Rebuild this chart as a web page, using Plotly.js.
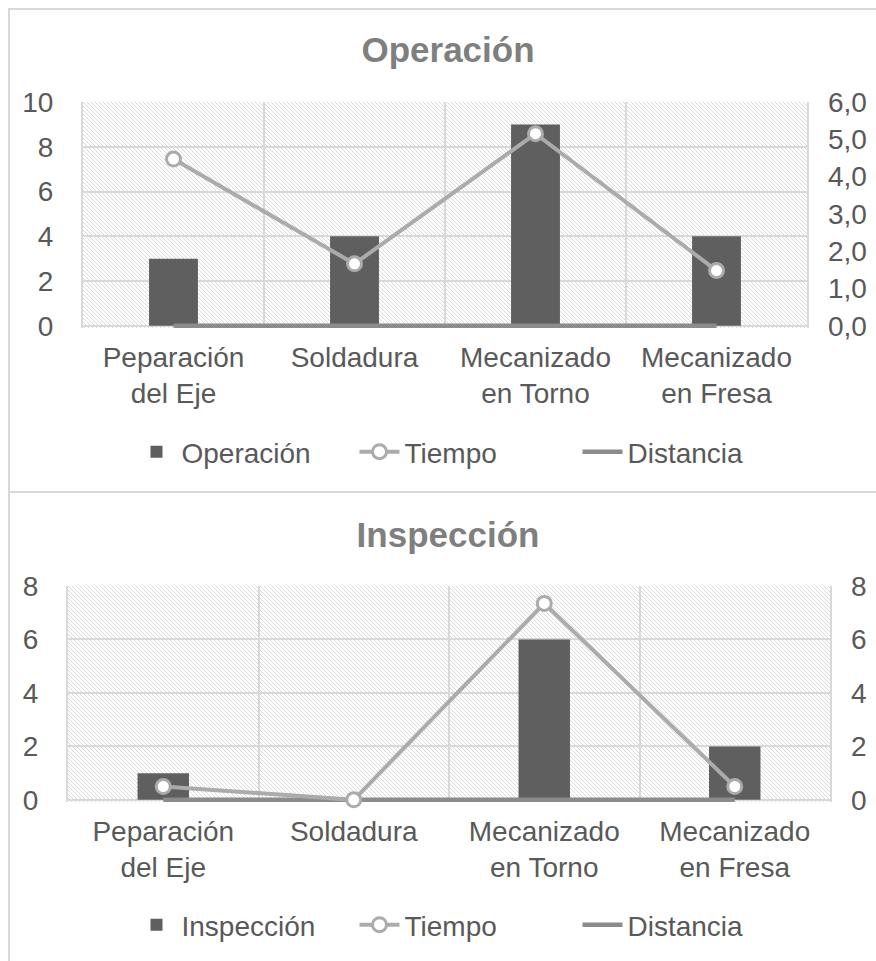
<!DOCTYPE html>
<html>
<head>
<meta charset="utf-8">
<script src="https://cdn.plot.ly/plotly-3.0.1.min.js"></script>
<style>
  html, body { margin:0; padding:0; background:#fff; }
  body { width:876px; height:961px; overflow:hidden; position:relative; }
  #b1 { position:absolute; left:8px; top:8px; width:900px; height:481px; border:2px solid #d9d9d9; box-sizing:content-box; }
  #b2 { position:absolute; left:8px; top:491px; width:900px; height:500px; border-left:2px solid #d9d9d9; }
  #g1 { position:absolute; left:0; top:0; width:876px; height:491px; }
  #g2 { position:absolute; left:0; top:491px; width:876px; height:470px; }
</style>
</head>
<body>
<div id="b1"></div>
<div id="b2"></div>
<div id="g1"></div>
<div id="g2"></div>
<script>
// ---- data ----
const categories = ['Peparación<br>del Eje', 'Soldadura', 'Mecanizado<br>en Torno', 'Mecanizado<br>en Fresa'];

const operacionValues = [3, 4, 9, 4];
const operacionTiempo = [4.47, 1.66, 5.15, 1.48];
const operacionDistancia = [0, 0, 0, 0];

const inspeccionValues = [1, 0, 6, 2];
const inspeccionTiempo = [0.5, 0, 7.35, 0.5];
const inspeccionDistancia = [0, 0, 0, 0];

// ---- styles ----
const FONT = '"Liberation Sans", Arial, sans-serif';
const TXT = '#595959';
const GRID = '#d9d9d9';
const BAR = '#5f5f5f';
const TLINE = '#ababab';
const DLINE = '#8c8c8c';

function hatch(w, h) {
  const svg = "<svg xmlns='http://www.w3.org/2000/svg' width='" + w + "' height='" + h + "' viewBox='0 0 " + w + " " + h + "' preserveAspectRatio='none'>" +
    "<defs><pattern id='p' width='4' height='4' patternUnits='userSpaceOnUse'>" +
    "<path d='M-1,-1 L5,5 M3,-1 L5,1 M-1,3 L1,5' stroke='#d6d6d6' stroke-width='0.9'/></pattern></defs>" +
    "<rect width='" + w + "' height='" + h + "' fill='#ffffff'/>" +
    "<rect width='" + w + "' height='" + h + "' fill='url(#p)'/></svg>";
  return 'data:image/svg+xml;charset=utf-8,' + encodeURIComponent(svg);
}

function makeChart(div, cfg) {
  const traces = [
    { type:'bar', x:categories, y:cfg.bars, name:cfg.name, marker:{color:BAR}, width:0.27,
      xaxis:'x', yaxis:'y', hoverinfo:'skip', legendrank:1 },
    { type:'scatter', mode:'lines', x:categories, y:cfg.dist, name:'Distancia',
      line:{color:DLINE, width:4.5}, xaxis:'x', yaxis:'y', cliponaxis:false, hoverinfo:'skip', legendrank:3 },
    { type:'scatter', mode:'lines+markers', x:categories, y:cfg.tiempo, name:'Tiempo',
      line:{color:TLINE, width:4},
      marker:{symbol:'circle', size:14, color:'#ffffff', line:{color:TLINE, width:3}},
      xaxis:'x', yaxis:'y2', cliponaxis:false, hoverinfo:'skip', legendrank:2 }
  ];
  const W = 876, H = cfg.height;
  const plotW = W - cfg.l - cfg.r, plotH = H - cfg.t - cfg.b;
  const layout = {
    width:W, height:H,
    margin:{l:cfg.l, r:cfg.r, t:cfg.t, b:cfg.b, pad:0},
    paper_bgcolor:'rgba(0,0,0,0)', plot_bgcolor:'rgba(0,0,0,0)',
    separators:',.',
    font:{family:FONT, color:TXT, size:28},
    title:{text:'<b>' + cfg.name + '</b>', font:{family:FONT, size:35, color:'#7f7f7f'},
      xref:'container', yref:'container', x:448 / W, xanchor:'center', y:1 - cfg.titleY / H, yanchor:'middle'},
    showlegend:true,
    legend:{orientation:'h', xref:'container', yref:'container', x:cfg.legX / W, xanchor:'center',
      y:1 - cfg.legY / H, yanchor:'middle', font:{family:FONT, size:28, color:TXT},
      traceorder:'normal', itemwidth:40, entrywidth:168, entrywidthmode:'pixels', bgcolor:'rgba(0,0,0,0)'},
    barmode:'group',
    xaxis:{type:'category', tickson:'boundaries', showgrid:true, gridcolor:GRID, gridwidth:2,
      showline:false, ticks:'', ticklen:0, ticklabelstandoff:10,
      tickfont:{size:28, color:TXT}, fixedrange:true, zeroline:false, layer:'below traces'},
    yaxis:{range:cfg.yRange, dtick:cfg.yDtick, showgrid:true, gridcolor:GRID, gridwidth:2,
      showline:true, mirror:true, linecolor:GRID, linewidth:2,
      zeroline:true, zerolinecolor:GRID, zerolinewidth:2, ticks:'', ticklen:0,
      ticklabelstandoff:22, tickfont:{size:28, color:TXT}, fixedrange:true, layer:'below traces'},
    yaxis2:{range:cfg.y2Range, dtick:cfg.y2Dtick, tickformat:cfg.y2Format, overlaying:'y', side:'right',
      showgrid:false, zeroline:false, showline:false, ticks:'', ticklen:0, ticklabelstandoff:20,
      tickfont:{size:28, color:TXT}, fixedrange:true},
    images:[{source:hatch(plotW, plotH), xref:'x domain', yref:'y domain', x:0, y:1, sizex:1, sizey:1,
      xanchor:'left', yanchor:'top', sizing:'stretch', layer:'below'}]
  };
  Plotly.newPlot(div, traces, layout, {displayModeBar:false, staticPlot:true});
}

makeChart('g1', {
  name:'Operación', bars:operacionValues, tiempo:operacionTiempo, dist:operacionDistancia,
  height:491, l:83, r:69, t:102, b:163, titleY:50, legX:466, legY:452,
  yRange:[-0.1,10], yDtick:2, y2Range:[-0.06,6], y2Dtick:1, y2Format:'.1f'
});

makeChart('g2', {
  name:'Inspección', bars:inspeccionValues, tiempo:inspeccionTiempo, dist:inspeccionDistancia,
  height:470, l:68, r:46, t:95, b:159, titleY:44, legX:466, legY:434,
  yRange:[-0.08,8], yDtick:2, y2Range:[-0.08,8], y2Dtick:2, y2Format:'d'
});
</script>
</body>
</html>
